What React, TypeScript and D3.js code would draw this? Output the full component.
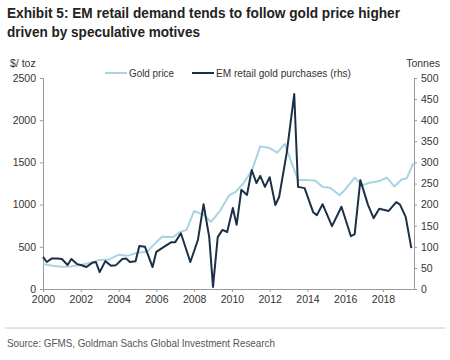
import * as d3 from 'd3';
import { useRef, useEffect } from 'react';

// gold price, $/toz (left axis)
const goldYears = [
  2000.0, 2000.5, 2001.0, 2001.5, 2002.0, 2002.5, 2003.0, 2003.5, 2004.0, 2004.5,
  2005.0, 2005.5, 2006.0, 2006.3, 2006.9, 2007.2, 2007.6, 2008.0, 2008.5, 2008.9,
  2009.4, 2009.85, 2010.2, 2010.6, 2011.05, 2011.5, 2012.0, 2012.4, 2012.8, 2013.2,
  2013.5, 2014.0, 2014.4, 2014.8, 2015.2, 2015.7, 2016.0, 2016.5, 2016.9, 2017.3,
  2017.8, 2018.2, 2018.6, 2019.0, 2019.25, 2019.6,
];
const goldPrice = [
  296, 275, 265, 268, 285, 310, 345, 350, 405, 395,
  430, 440, 555, 620, 615, 670, 700, 925, 880, 795,
  935, 1110, 1150, 1250, 1400, 1690, 1670, 1615, 1720, 1470,
  1290, 1290, 1285, 1210, 1200, 1110, 1180, 1320, 1230, 1260,
  1280, 1320, 1215, 1300, 1310, 1490,
];

// EM retail gold purchases, tonnes (right axis)
const buyYears = [
  2000.0, 2000.2, 2000.45, 2000.75, 2001.0, 2001.3, 2001.5, 2001.8, 2002.0, 2002.3,
  2002.6, 2002.8, 2003.0, 2003.3, 2003.6, 2003.85, 2004.2, 2004.4, 2004.6, 2004.9,
  2005.1, 2005.4, 2005.8, 2006.0, 2006.4, 2006.8, 2007.0, 2007.3, 2007.8, 2008.2,
  2008.5, 2008.8, 2009.0, 2009.25, 2009.5, 2009.75, 2010.05, 2010.25, 2010.5, 2010.8,
  2011.05, 2011.3, 2011.5, 2011.75, 2012.0, 2012.3, 2012.5, 2012.9, 2013.3, 2013.5,
  2013.85, 2014.3, 2014.5, 2014.8, 2015.3, 2015.8, 2016.3, 2016.5, 2016.8, 2017.2,
  2017.5, 2017.8, 2018.3, 2018.7, 2018.9, 2019.2, 2019.5,
];
const buyTonnes = [
  76, 64, 72, 72, 71, 57, 71, 59, 57, 52,
  62, 64, 40, 66, 55, 56, 71, 72, 64, 66,
  102, 100, 52, 88, 100, 111, 111, 132, 64, 116,
  201, 123, 5, 123, 140, 135, 192, 152, 235, 223,
  282, 251, 268, 242, 265, 199, 218, 322, 462, 242,
  239, 182, 175, 201, 149, 195, 125, 130, 258, 200,
  168, 190, 185, 206, 200, 171, 97,
];

const leftTicks = [0, 500, 1000, 1500, 2000, 2500];
const rightTicks = [0, 50, 100, 150, 200, 250, 300, 350, 400, 450, 500];
const yearTicks = [2000, 2002, 2004, 2006, 2008, 2010, 2012, 2014, 2016, 2018];

const goldColor = '#a9d3e4';
const buyColor = '#1b3046';
const font = '"Liberation Sans", Arial, Helvetica, sans-serif';
const fs = 10.5;

const App = () => {
  const svgRef = useRef<SVGSVGElement | null>(null);

  useEffect(() => {
    const W = 450;
    const H = 360;
    const m = { left: 43, right: 36, top: 78, bottom: 71 };

    d3.select(svgRef.current).selectAll('*').remove();
    const svg = d3.select(svgRef.current).attr('width', W).attr('height', H);

    svg.append('rect').attr('width', W).attr('height', H).attr('fill', '#fff');

    const x = d3.scaleLinear().domain([2000, 2019.64]).range([m.left, W - m.right]);
    const yL = d3.scaleLinear().domain([0, 2500]).range([H - m.bottom, m.top]);
    const yR = d3.scaleLinear().domain([0, 500]).range([H - m.bottom, m.top]);

    // title (condensed face squeezed to the reference width)
    const title = svg.append('text')
      .attr('font-family', font)
      .attr('font-weight', 'bold')
      .attr('font-size', 15.5)
      .attr('fill', '#222');
    title.append('tspan').attr('x', 7).attr('y', 18)
      .attr('textLength', 393).attr('lengthAdjust', 'spacingAndGlyphs')
      .text('Exhibit 5: EM retail demand tends to follow gold price higher');
    svg.append('text')
      .attr('font-family', font)
      .attr('font-weight', 'bold')
      .attr('font-size', 15.5)
      .attr('fill', '#222')
      .attr('x', 7).attr('y', 37)
      .attr('textLength', 193).attr('lengthAdjust', 'spacingAndGlyphs')
      .text('driven by speculative motives');

    // axes
    const axisStyle = (g: d3.Selection<SVGGElement, unknown, null, undefined>) => {
      g.selectAll('path, line').attr('stroke', '#9a9a9a');
      g.selectAll('text').attr('font-family', font).attr('font-size', fs).attr('fill', '#333');
    };

    svg.append('g')
      .attr('transform', `translate(${m.left},0)`)
      .call(d3.axisLeft(yL).tickValues(leftTicks).tickFormat(d3.format('d')).tickSize(3).tickSizeOuter(3).tickPadding(4))
      .call(axisStyle);

    svg.append('g')
      .attr('transform', `translate(${W - m.right},0)`)
      .call(d3.axisRight(yR).tickValues(rightTicks).tickSize(3).tickSizeOuter(3).tickPadding(4))
      .call(axisStyle);

    svg.append('g')
      .attr('transform', `translate(0,${H - m.bottom})`)
      .call(d3.axisBottom(x).tickValues(yearTicks).tickFormat(d3.format('d')).tickSize(3).tickSizeOuter(0).tickPadding(4))
      .call(axisStyle);

    // axis titles
    svg.append('text').attr('x', 10).attr('y', 67)
      .attr('font-family', font).attr('font-size', fs).attr('fill', '#333').text('$/ toz');
    svg.append('text').attr('x', 440).attr('y', 67).attr('text-anchor', 'end')
      .attr('font-family', font).attr('font-size', fs).attr('fill', '#333').text('Tonnes');

    // lines
    const goldLine = d3.line<number>()
      .x((_, i) => x(goldYears[i]))
      .y(d => yL(d));
    svg.append('path')
      .attr('d', goldLine(goldPrice))
      .attr('fill', 'none')
      .attr('stroke', goldColor)
      .attr('stroke-width', 2)
      .attr('stroke-linejoin', 'round');

    const buyLine = d3.line<number>()
      .x((_, i) => x(buyYears[i]))
      .y(d => yR(d));
    svg.append('path')
      .attr('d', buyLine(buyTonnes))
      .attr('fill', 'none')
      .attr('stroke', buyColor)
      .attr('stroke-width', 2)
      .attr('stroke-linejoin', 'round');

    // legend
    const leg = [
      { label: 'Gold price', color: goldColor, x0: 105, len: 45 },
      { label: 'EM retail gold purchases (rhs)', color: buyColor, x0: 192, len: 135 },
    ];
    leg.forEach(l => {
      svg.append('line')
        .attr('x1', l.x0).attr('x2', l.x0 + 22)
        .attr('y1', 73).attr('y2', 73)
        .attr('stroke', l.color).attr('stroke-width', 2);
      svg.append('text')
        .attr('x', l.x0 + 24).attr('y', 77)
        .attr('textLength', l.len).attr('lengthAdjust', 'spacingAndGlyphs')
        .attr('font-family', font).attr('font-size', fs).attr('fill', '#333')
        .text(l.label);
    });

    // footer
    svg.append('line')
      .attr('x1', 5).attr('x2', 445).attr('y1', 328).attr('y2', 328)
      .attr('stroke', '#c8c8c8').attr('stroke-width', 1);
    svg.append('text')
      .attr('x', 7).attr('y', 347)
      .attr('textLength', 268).attr('lengthAdjust', 'spacingAndGlyphs')
      .attr('font-family', font).attr('font-size', 11.5).attr('fill', '#555')
      .text('Source: GFMS, Goldman Sachs Global Investment Research');
  }, []);

  return (
    <svg ref={svgRef} style={{ position: 'absolute', left: 0, top: 0, display: 'block' }}></svg>
  );
};

export default App;
